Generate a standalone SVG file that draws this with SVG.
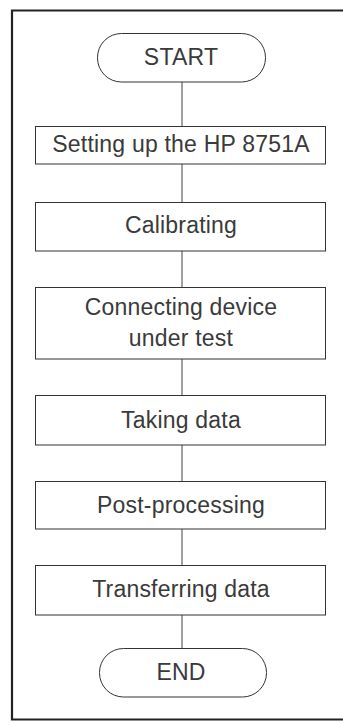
<svg xmlns="http://www.w3.org/2000/svg" width="343" height="725" viewBox="0 0 343 725">
<style>
.frame{fill:none;stroke:#222;stroke-width:2.2}
.box{fill:#fff;stroke:#333;stroke-width:1}
.conn{fill:none;stroke:#444;stroke-width:1}
text{font-family:"Liberation Sans",Arial,sans-serif;font-size:23px;letter-spacing:0.2px;fill:#3a3a3a;text-anchor:middle}
</style>
<rect width="343" height="725" fill="#fff"/>
<path class="frame" d="M343,10.5 H12 V719.5 H343"/>
<g id="connectors">
<line class="conn" x1="182" y1="82" x2="182" y2="126"/>
<line class="conn" x1="182" y1="164" x2="182" y2="202"/>
<line class="conn" x1="182" y1="251" x2="182" y2="287"/>
<line class="conn" x1="182" y1="359" x2="182" y2="395"/>
<line class="conn" x1="182" y1="445" x2="182" y2="481"/>
<line class="conn" x1="182" y1="529" x2="182" y2="565"/>
<line class="conn" x1="182" y1="615" x2="182" y2="648"/>
</g>
<g id="start">
<rect class="box" x="97.5" y="33.5" width="168" height="48.5" rx="24"/>
<text x="181" y="65">START</text>
</g>
<g id="setup">
<rect class="box" x="35.5" y="126.5" width="290" height="37.5"/>
<text x="181" y="152">Setting up the HP 8751A</text>
</g>
<g id="calibrating">
<rect class="box" x="35.5" y="202.5" width="290" height="48.5"/>
<text x="181" y="233">Calibrating</text>
</g>
<g id="connecting">
<rect class="box" x="35.5" y="287.5" width="290" height="71.5"/>
<text x="181" y="315">Connecting device</text>
<text x="181" y="346">under test</text>
</g>
<g id="taking">
<rect class="box" x="35.5" y="395.5" width="290" height="49.5"/>
<text x="181" y="428">Taking data</text>
</g>
<g id="postprocessing">
<rect class="box" x="35.5" y="481.5" width="290" height="47.5"/>
<text x="181" y="513">Post-processing</text>
</g>
<g id="transferring">
<rect class="box" x="35.5" y="565.5" width="290" height="49.5"/>
<text x="181" y="597">Transferring data</text>
</g>
<g id="end">
<rect class="box" x="99.5" y="648.5" width="167" height="48.5" rx="24"/>
<text x="181" y="680">END</text>
</g>
</svg>
